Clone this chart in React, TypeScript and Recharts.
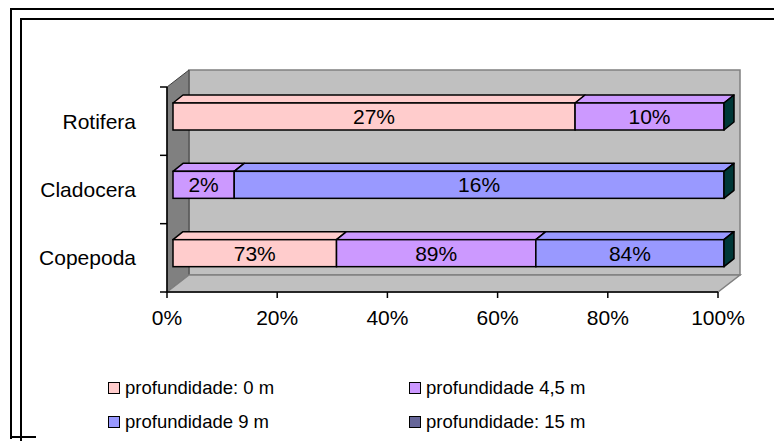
import React from "react";
import { BarChart, Bar, XAxis, YAxis, Legend } from "recharts";

const FONT = '"Liberation Sans", Arial, sans-serif';

// Share of each group (%) within each sampling depth
const CATEGORIES = ["Rotifera", "Cladocera", "Copepoda"];
const DEPTH_0M = [27, 0, 73];
const DEPTH_45M = [10, 2, 89];
const DEPTH_9M = [0, 16, 84];
const DEPTH_15M = [0, 0, 0];
const X_TICKS = [0, 0.2, 0.4, 0.6, 0.8, 1];

const SERIES = [
  { key: "d0", name: "profundidade: 0 m", color: "#FFCCCC" },
  { key: "d45", name: "profundidade 4,5 m", color: "#CC99FF" },
  { key: "d9", name: "profundidade 9 m", color: "#9999FF" },
  { key: "d15", name: "profundidade: 15 m", color: "#666699" },
];

const data = CATEGORIES.map((name, i) => ({
  name,
  d0: DEPTH_0M[i],
  d45: DEPTH_45M[i],
  d9: DEPTH_9M[i],
  d15: DEPTH_15M[i],
}));

// plot box
const W = 774;
const H = 441;
const LEFT = 167;
const TOP = 87;
const RIGHT = 718;
const BOTTOM = 292;
const WALL_DX = 22;
const WALL_DY = -17;
const BAR_DX = 10;
const BAR_DY = -8;

const Walls = () => (
  <g>
    <rect
      x={LEFT + WALL_DX}
      y={TOP + WALL_DY}
      width={RIGHT - LEFT}
      height={BOTTOM - TOP}
      fill="#C0C0C0"
      stroke="#808080"
      strokeWidth={1.5}
    />
    <polygon
      points={`${LEFT},${TOP} ${LEFT + WALL_DX},${TOP + WALL_DY} ${LEFT + WALL_DX},${BOTTOM + WALL_DY} ${LEFT},${BOTTOM}`}
      fill="#808080"
      stroke="#404040"
      strokeWidth={1}
    />
    <polygon
      points={`${LEFT},${BOTTOM} ${LEFT + WALL_DX},${BOTTOM + WALL_DY} ${RIGHT + WALL_DX},${BOTTOM + WALL_DY} ${RIGHT},${BOTTOM}`}
      fill="#C0C0C0"
      stroke="#808080"
      strokeWidth={1.5}
    />
  </g>
);

const makeShape = (key: string) => (props: any) => {
  const { x, y, width, height, fill, payload } = props;
  const value = payload[key];
  if (!value || width <= 0.5) return <g />;
  const fx = x + 6;
  const fy = y - 5;
  const lastKey = [...SERIES].reverse().find((s) => payload[s.key] > 0)?.key;
  return (
    <g>
      <polygon
        points={`${fx},${fy} ${fx + BAR_DX},${fy + BAR_DY} ${fx + width + BAR_DX},${fy + BAR_DY} ${fx + width},${fy}`}
        fill={fill}
        stroke="#000"
        strokeWidth={1.5}
        strokeLinejoin="round"
      />
      <rect x={fx} y={fy} width={width} height={height} fill={fill} stroke="#000" strokeWidth={1.5} />
      {key === lastKey && (
        <polygon
          points={`${fx + width},${fy} ${fx + width + BAR_DX},${fy + BAR_DY} ${fx + width + BAR_DX},${fy + height + BAR_DY} ${fx + width},${fy + height}`}
          fill="#003838"
          stroke="#000"
          strokeWidth={1.5}
          strokeLinejoin="round"
        />
      )}
      <text
        x={fx + width / 2}
        y={fy + height / 2}
        textAnchor="middle"
        dominantBaseline="central"
        fontSize={21}
        fontFamily={FONT}
        fill="#000"
      >
        {`${value}%`}
      </text>
    </g>
  );
};

const CategoryTick = (props: any) => {
  const { y, payload, index } = props;
  const band = (BOTTOM - TOP) / CATEGORIES.length;
  return (
    <g>
      <line x1={160} x2={LEFT} y1={y - band / 2} y2={y - band / 2} stroke="#000" strokeWidth={1.5} />
      {index === CATEGORIES.length - 1 && (
        <line x1={160} x2={LEFT} y1={y + band / 2} y2={y + band / 2} stroke="#000" strokeWidth={1.5} />
      )}
      <text x={136} y={y} textAnchor="end" dominantBaseline="central" fontSize={21} fontFamily={FONT} fill="#000">
        {payload.value}
      </text>
    </g>
  );
};

const LegendBox = () => (
  <div
    style={{
      display: "grid",
      gridTemplateColumns: "301px 300px",
      gridAutoRows: "34px",
      fontFamily: FONT,
      fontSize: 18.5,
      color: "#000",
    }}
  >
    {SERIES.map((s) => (
      <div key={s.key} style={{ display: "flex", alignItems: "center" }}>
        <span
          style={{
            display: "inline-block",
            width: 10,
            height: 10,
            background: s.color,
            border: "1.5px solid #000",
            marginRight: 5,
          }}
        />
        <span>{s.name}</span>
      </div>
    ))}
  </div>
);

export default function App() {
  return (
    <div style={{ position: "absolute", left: 0, top: 0, width: W, height: H, background: "#fff", overflow: "hidden" }}>
      <div style={{ position: "absolute", left: 10, top: 8, width: 800, height: 429, borderLeft: "2px solid #000", borderTop: "2px solid #000" }} />
      <div style={{ position: "absolute", left: 10, top: 436, width: 26, height: 0, borderTop: "2px solid #000" }} />
      <div style={{ position: "absolute", left: 20, top: 18, width: 800, height: 440, borderLeft: "2px solid #000", borderTop: "2px solid #000" }} />
      <div style={{ position: "absolute", left: 0, top: 0 }}>
        <BarChart
          width={W}
          height={H}
          data={data}
          layout="vertical"
          stackOffset="expand"
          barSize={27}
          margin={{ top: TOP, right: W - RIGHT, bottom: H - BOTTOM - 30, left: 0 }}
        >
          <Walls />
          <XAxis
            type="number"
            domain={[0, 1]}
            ticks={X_TICKS}
            tickFormatter={(v: number) => `${Math.round(v * 100)}%`}
            height={30}
            tickSize={6}
            tickMargin={12}
            axisLine={{ stroke: "#000", strokeWidth: 1.5 }}
            tickLine={{ stroke: "#000", strokeWidth: 1.5 }}
            tick={{ fontSize: 21, fill: "#000", fontFamily: FONT }}
          />
          <YAxis
            type="category"
            dataKey="name"
            width={LEFT}
            tickLine={false}
            axisLine={{ stroke: "#000", strokeWidth: 1.5 }}
            tick={<CategoryTick />}
          />
          {SERIES.map((s) => (
            <Bar
              key={s.key}
              dataKey={s.key}
              name={s.name}
              stackId="a"
              fill={s.color}
              shape={makeShape(s.key)}
              isAnimationActive={false}
            />
          ))}
          <Legend
            layout="horizontal"
            verticalAlign="middle"
            align="center"
            wrapperStyle={{ top: 371, left: 108, width: 620 }}
            content={<LegendBox />}
          />
        </BarChart>
      </div>
    </div>
  );
}
